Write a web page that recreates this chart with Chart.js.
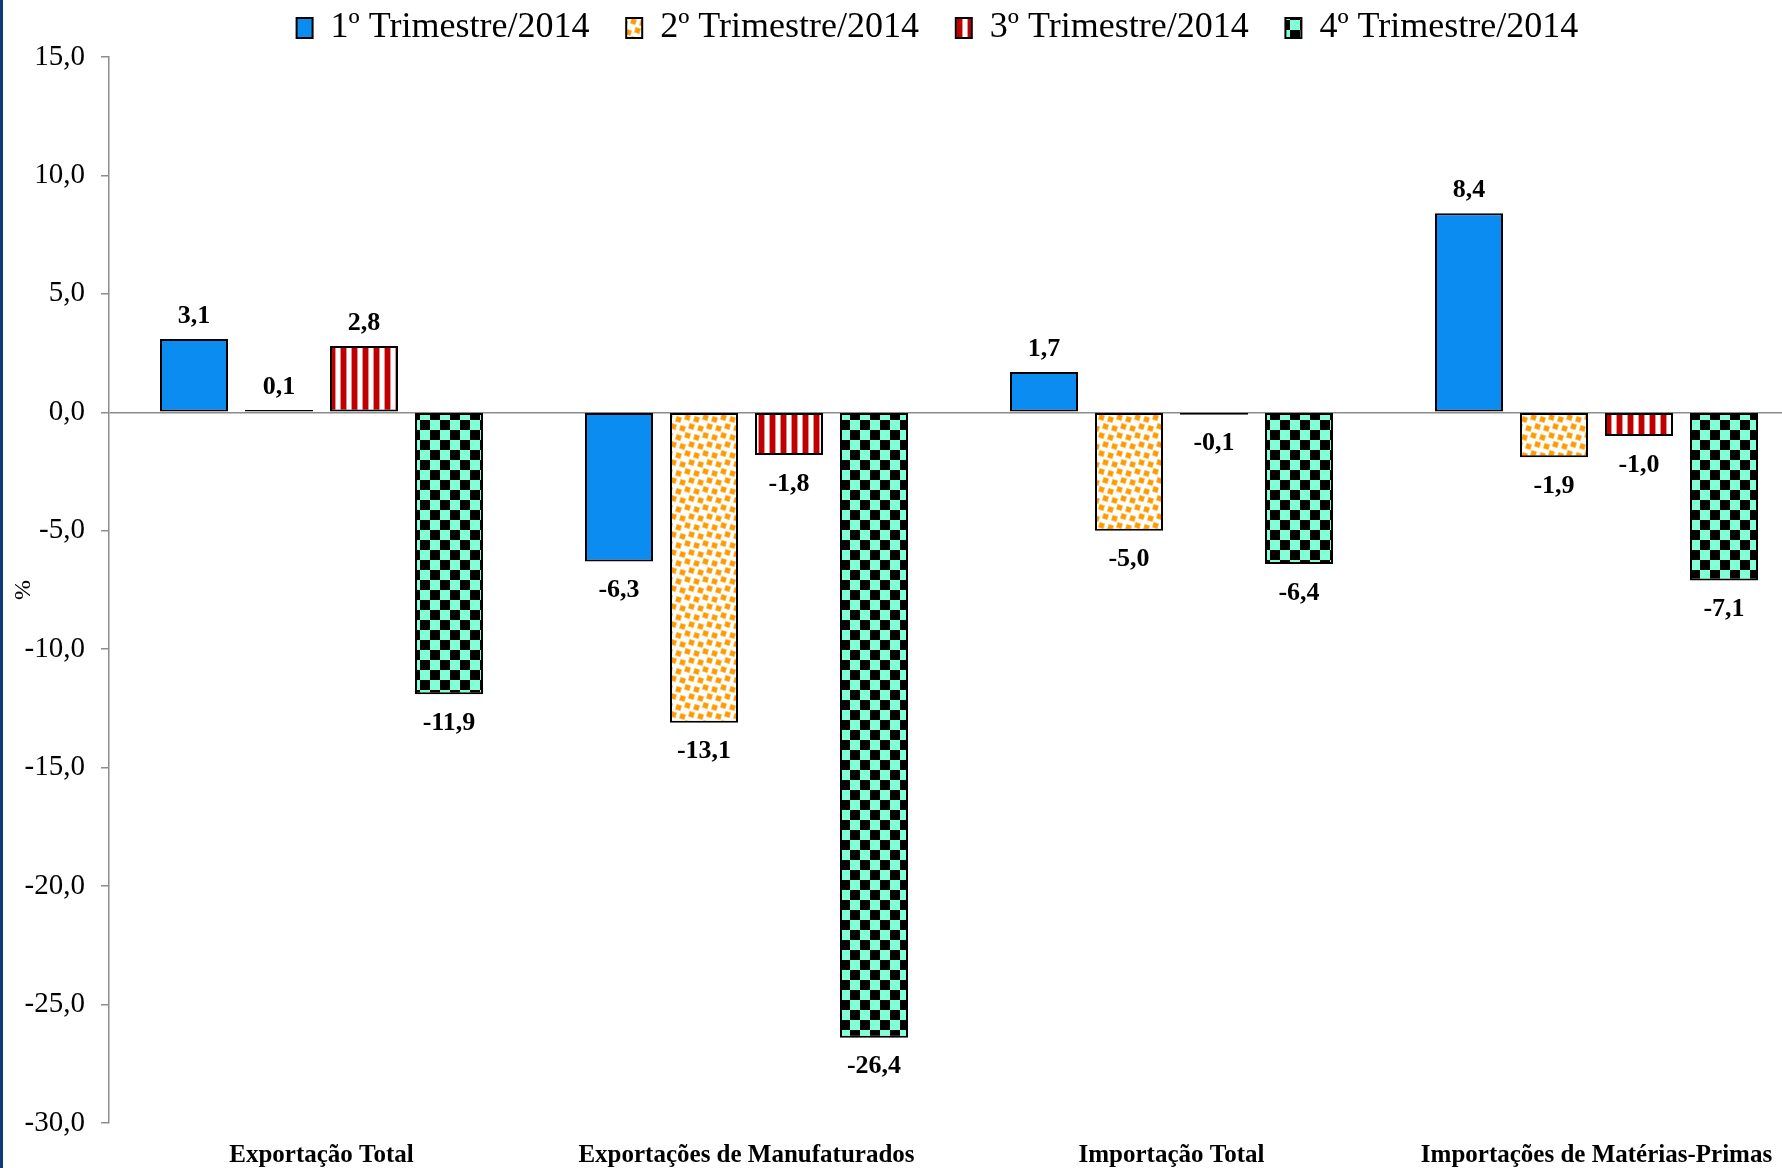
<!DOCTYPE html>
<html><head><meta charset="utf-8">
<script src="https://cdn.jsdelivr.net/npm/chart.js@4/dist/chart.umd.min.js"></script>
<style>
html,body{margin:0;padding:0;background:#fff;overflow:hidden;width:1782px;height:1168px}
#wrap{position:absolute;left:0;top:0;width:1810px;height:1168px}
#edge{position:absolute;left:0;top:0;width:3px;height:1168px;background:#0c3b78;z-index:2}
</style></head><body>
<div id="wrap"><canvas id="c"></canvas></div><div id="edge"></div>
<script>
const categories = ["Exportação Total", "Exportações de Manufaturados", "Importação Total", "Importações de Matérias-Primas"];
const seriesNames = ["1º Trimestre/2014", "2º Trimestre/2014", "3º Trimestre/2014", "4º Trimestre/2014"];
const q1 = [3.1, -6.3, 1.7, 8.4];
const q2 = [0.1, -13.1, -5.0, -1.9];
const q3 = [2.8, -1.8, -0.1, -1.0];
const q4 = [-11.9, -26.4, -6.4, -7.1];
const yMin = -30, yMax = 15, yStep = 5;
const yTitle = "%";

const fmt = v => v.toFixed(1).replace('.', ',');
const SERIF = '"Liberation Serif", "DejaVu Serif", serif';

const canvas = document.getElementById('c');
const mainCtx = canvas.getContext('2d');
function makePattern(w, h, draw) {
  const c = document.createElement('canvas'); c.width = w; c.height = h;
  const g = c.getContext('2d'); draw(g);
  return mainCtx.createPattern(c, 'repeat');
}
const blueFill = '#0A8CF0';
const orangeFill = makePattern(18, 18, g => {
  g.fillStyle = '#fff'; g.fillRect(0, 0, 18, 18);
  const dot = (x, y) => {
    for (const [ox, oy] of [[0,0],[-18,0],[0,-18],[-18,-18]]) {
      g.save(); g.translate(x + ox + 2.5, y + oy + 2.5); g.rotate(0.3);
      g.fillStyle = '#FFCB7A'; g.fillRect(-3, -3, 6, 6);
      g.fillStyle = '#FF9A00'; g.fillRect(-2.3, -2.3, 4.6, 4.6);
      g.restore();
    }
  };
  [[1,1],[10,3],[5,10],[14,12]].forEach(([x, y]) => dot(x, y));
});
const redFill = makePattern(11, 4, g => {
  g.fillStyle = '#fff'; g.fillRect(0, 0, 11, 4);
  g.fillStyle = '#C00000'; g.fillRect(0, 0, 5, 4);
  g.fillStyle = '#E89090'; g.fillRect(5, 0, 1, 4); g.fillRect(10, 0, 1, 4);
});
const checkFill = makePattern(20, 20, g => {
  g.fillStyle = '#80FFD8'; g.fillRect(0, 0, 20, 20);
  g.fillStyle = '#000'; g.fillRect(0, 0, 10, 10); g.fillRect(10, 10, 10, 10);
});

const legendFontSize = 36;
mainCtx.font = legendFontSize + 'px ' + SERIF;
const legendTextW = mainCtx.measureText(seriesNames[0]).width;
const legendPad = Math.max(4, 328.6 - (15 + legendFontSize / 2) - legendTextW);

const valueLabels = {
  id: 'valueLabels',
  afterDatasetsDraw(chart) {
    const ctx = chart.ctx;
    ctx.save();
    ctx.font = 'bold 26px ' + SERIF;
    ctx.fillStyle = '#000'; ctx.textAlign = 'center'; ctx.textBaseline = 'middle';
    chart.data.datasets.forEach((ds, i) => {
      chart.getDatasetMeta(i).data.forEach((el, j) => {
        const v = ds.data[j];
        ctx.fillText(fmt(v), el.x, v >= 0 ? el.y - 23 : el.y + 29);
      });
    });
    ctx.restore();
  }
};
const legendPlace = {
  id: 'legendPlace',
  afterLayout(chart) {
    const L = chart.legend; if (!L || !L.lineWidths) return;
    const p = L.options.labels.padding;
    const start = (L.left + p + L.right - L.lineWidths[0]) / 2;
    const dx = (329.6 - 15 - legendFontSize / 2) - start;
    L.left += dx; L.right += dx;
    const dy = (28 - p - legendFontSize / 2) - L.top;
    L.top += dy;
  }
};

const fills = [blueFill, orangeFill, redFill, checkFill];
const series = [q1, q2, q3, q4];
new Chart(canvas, {
  type: 'bar',
  data: {
    labels: categories,
    datasets: series.map((d, i) => ({
      label: seriesNames[i], data: d,
      backgroundColor: fills[i], borderColor: '#000', borderWidth: 2, borderSkipped: false,
      categoryPercentage: 0.8, barPercentage: 0.8
    }))
  },
  options: {
    responsive: true, maintainAspectRatio: false, animation: false, devicePixelRatio: 1,
    layout: { padding: { left: 0, right: 1, top: 0, bottom: 0 } },
    plugins: {
      legend: {
        position: 'top', maxHeight: 57,
        labels: {
          boxWidth: 16, boxHeight: 20, padding: legendPad, color: '#000',
          font: { family: SERIF, size: legendFontSize, lineHeight: 1.0 }
        }
      },
      tooltip: { enabled: false }
    },
    scales: {
      x: {
        grid: { display: false, drawTicks: false },
        border: { display: false },
        ticks: { color: '#000', padding: 18, font: { family: SERIF, size: 25, weight: 'bold' }, maxRotation: 0, autoSkip: false },
        afterFit(s) { s.height = 45; }
      },
      y: {
        min: yMin, max: yMax,
        ticks: { stepSize: yStep, color: '#000', padding: 16, font: { family: SERIF, size: 29 }, callback: v => fmt(v) },
        grid: {
          color: c => (c.tick && c.tick.value === 0) ? '#8c8c8c' : 'rgba(0,0,0,0)',
          lineWidth: 1.5, tickColor: '#8c8c8c', tickLength: 8, tickWidth: 1.5
        },
        border: { display: true, color: '#8c8c8c', width: 1.5 },
        title: { display: true, text: yTitle, color: '#000', font: { family: SERIF, size: 24 }, padding: { top: 9, bottom: 0 } },
        afterFit(s) { s.width = 109; }
      }
    }
  },
  plugins: [valueLabels, legendPlace]
});
</script>
</body></html>
